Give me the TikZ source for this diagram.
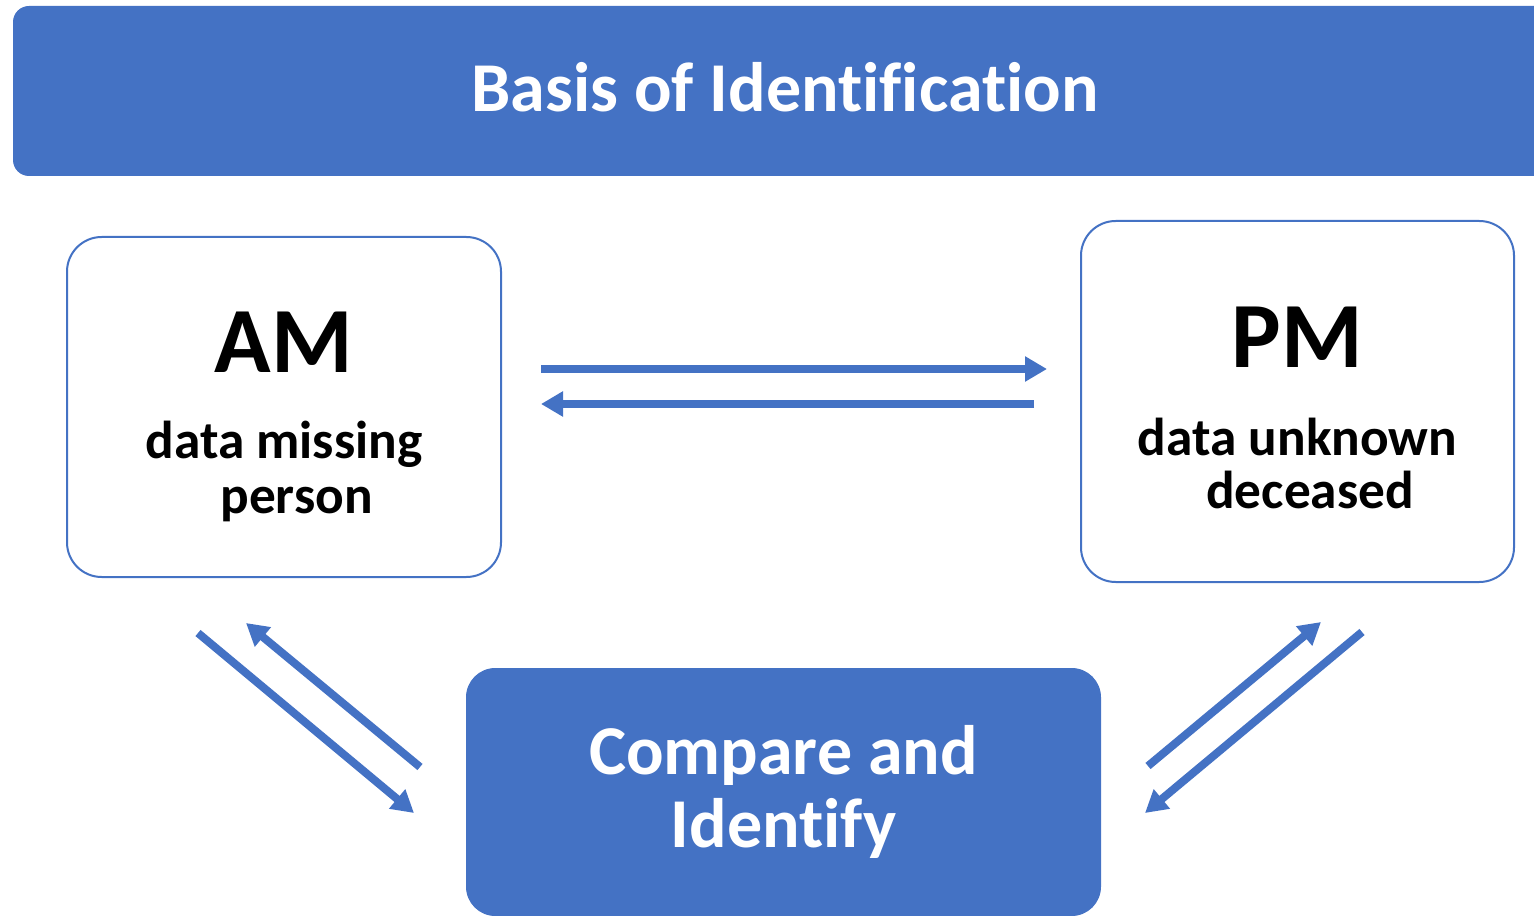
\documentclass[tikz,border=0pt]{standalone}
\usepackage{fontspec}
\setmainfont{Carlito}[Ligatures=NoCommon]
\usetikzlibrary{arrows.meta}
\definecolor{idblue}{HTML}{4472C4}

\begin{document}
\begin{tikzpicture}[x=0.75pt,y=0.75pt,yscale=-1,xscale=1,
  banner/.style={fill=idblue,draw=none,inner sep=0pt,text=white,font=\bfseries,align=center},
  card/.style={draw=idblue,line width=1.5pt,fill=white,inner sep=0pt,rounded corners=26pt},
  flow/.style={draw=idblue,line width=6pt,-{Triangle[length=16.5pt,width=18pt]}}]
\useasboundingbox (0,0) rectangle (1534,916);
% boxes
\node [banner,rounded corners=12pt,minimum width=1158pt,minimum height=127.5pt,text depth=6pt,font=\bfseries\fontsize{52.5}{63}\selectfont] (title) at (785,91) {Basis of Identification};
\node [card,minimum width=325.5pt,minimum height=255pt] (am) at (284,407) {};
\node [card,minimum width=324.75pt,minimum height=270.75pt] (pm) at (1297.5,401.5) {};
\node [banner,rounded corners=22pt,minimum width=476.25pt,minimum height=186pt,font=\bfseries\fontsize{52.5}{54.75}\selectfont] (cmp) at (783.5,792) {Compare and\\Identify};
% labels
\draw (284,372) node [anchor=base,font=\bfseries\fontsize{70}{84}\selectfont] (amhead) {AM};
\draw (284,513) node [anchor=base,align=center,font=\bfseries\fontsize{40}{41.25}\selectfont] (amtext) {data missing\\\hspace*{19pt}person};
\draw (1297.5,367) node [anchor=base,font=\bfseries\fontsize{70}{84}\selectfont] (pmhead) {PM};
\draw (1297.5,508) node [anchor=base,align=center,font=\bfseries\fontsize{40}{39.75}\selectfont] (pmtext) {data unknown\\\hspace*{19pt}deceased};
% arrow ends
\coordinate (am-r1) at (541,369);  \coordinate (pm-l1) at (1047,369);
\coordinate (pm-l2) at (1034,404); \coordinate (am-r2) at (541,404);
\coordinate (am-b1) at (198,633);  \coordinate (cmp-l1) at (414,813);
\coordinate (cmp-l2) at (420,767); \coordinate (am-b2) at (246,623);
\coordinate (cmp-r1) at (1148,766); \coordinate (pm-b1) at (1321,622);
\coordinate (pm-b2) at (1362,632); \coordinate (cmp-r2) at (1145,813);
% arrows
\draw [flow] (am-r1) -- (pm-l1);
\draw [flow] (pm-l2) -- (am-r2);
\draw [flow] (am-b1) -- (cmp-l1);
\draw [flow] (cmp-l2) -- (am-b2);
\draw [flow] (cmp-r1) -- (pm-b1);
\draw [flow] (pm-b2) -- (cmp-r2);
\end{tikzpicture}
\end{document}
